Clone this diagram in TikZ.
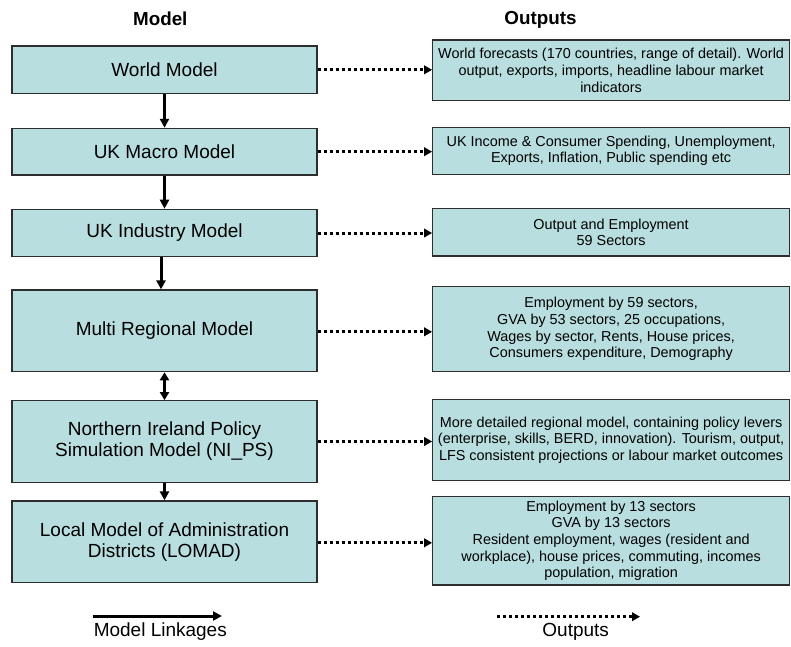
\documentclass[tikz,border=0pt]{standalone}
\usepackage{fontspec}
\setmainfont{Liberation Sans}
\usetikzlibrary{arrows.meta}
\definecolor{boxfill}{RGB}{185,222,224}
\definecolor{boxline}{RGB}{45,45,45}
\tikzset{
  modelbox/.style={draw=boxline, line width=1.2pt, fill=boxfill, inner sep=0pt,
    minimum width=305pt, align=center, font=\fontsize{19}{21}\selectfont},
  outbox/.style={draw=boxline, line width=1.2pt, fill=boxfill, inner sep=0pt,
    minimum width=356.8pt, align=center, font=\fontsize{14.4}{16.7}\selectfont},
  header/.style={font=\fontsize{18.8}{21}\selectfont\bfseries, inner sep=0pt},
  legendtext/.style={font=\fontsize{19}{21}\selectfont, inner sep=0pt},
  linkage/.style={line width=3pt, -{Triangle[length=9pt,width=9pt]}},
  biglink/.style={line width=3pt, {Triangle[length=8pt,width=9pt]}-{Triangle[length=8pt,width=9pt]}},
  outlink/.style={line width=3pt, dash pattern=on 3pt off 3pt, -{Triangle[length=8pt,width=8.5pt]}}
}
\begin{document}
\begin{tikzpicture}[x=1pt,y=-1pt]
\useasboundingbox (0,0) rectangle (791,646);

\node[header] (hm) at (160.3,19) {Model};
\node[header] (ho) at (540.5,19.5) {Outputs};

% model boxes
\node[modelbox, minimum height=47.5pt] (world) at (164.5,69.8) {World Model};
\node[modelbox, minimum height=46.7pt] (macro) at (164.5,151.7) {UK Macro Model};
\node[modelbox, minimum height=47.4pt] (ind) at (164.5,233) {UK Industry Model};
\node[modelbox, minimum height=81.7pt] (multi) at (164.5,330.8) {Multi Regional Model};
\node[modelbox, minimum height=81.6pt] (nips) at (164.5,441.5) {Northern Ireland Policy\\Simulation Model (NI\_PS)};
\node[modelbox, minimum height=81.7pt] (lomad) at (164.5,541.8) {Local Model of Administration\\Districts (LOMAD)};

% output boxes
\node[outbox, minimum height=60.7pt] (oworld) at (611.1,70.3) {World forecasts (170 countries, range of detail). World\\output, exports, imports, headline labour market\\indicators};
\node[outbox, minimum height=47pt] (omacro) at (611.1,150.8) {UK Income \& Consumer Spending, Unemployment,\\Exports, Inflation, Public spending etc};
\node[outbox, minimum height=47.3pt] (oind) at (611.1,232.3) {Output and Employment\\59 Sectors};
\node[outbox, minimum height=85pt] (omulti) at (611.1,329.2) {Employment by 59 sectors,\\GVA by 53 sectors, 25 occupations,\\Wages by sector, Rents, House prices,\\Consumers expenditure, Demography};
\node[outbox, minimum height=81.4pt] (onips) at (611.1,440) {More detailed regional model, containing policy levers\\(enterprise, skills, BERD, innovation). Tourism, output,\\LFS consistent projections or labour market outcomes};
\node[outbox, minimum height=88.3pt] (olomad) at (611.1,540.8) {Employment by 13 sectors\\GVA by 13 sectors\\Resident employment, wages (resident and\\workplace), house prices, commuting, incomes\\population, migration};

% model linkages
\draw[linkage] (world.south) -- (macro.north);
\draw[linkage] (macro.south) -- (ind.north);
\draw[linkage] ([xshift=-3.5pt]ind.south) -- ([xshift=-3.5pt]multi.north);
\draw[biglink] (multi.south) -- (nips.north);
\draw[linkage] (nips.south) -- (lomad.north);

% outputs
\draw[outlink] (world.east) -- (world.east -| oworld.west);
\draw[outlink] (macro.east) -- (macro.east -| omacro.west);
\draw[outlink] (ind.east) -- (ind.east -| oind.west);
\draw[outlink] ([yshift=-1pt]multi.east) -- ([yshift=-1pt]multi.east -| omulti.west);
\draw[outlink] (nips.east) -- (nips.east -| onips.west);
\draw[outlink] ([yshift=-1pt]lomad.east) -- ([yshift=-1pt]lomad.east -| olomad.west);

% legend
\coordinate (ls) at (93,616);
\coordinate (le) at (222,616);
\draw[linkage] (ls) -- (le);
\node[legendtext] (lt) at (160.3,632) {Model Linkages};
\coordinate (ds) at (497,616.7);
\coordinate (de) at (640,616.7);
\draw[outlink] (ds) -- (de);
\node[legendtext] (dt) at (575.7,632) {Outputs};
\end{tikzpicture}
\end{document}
